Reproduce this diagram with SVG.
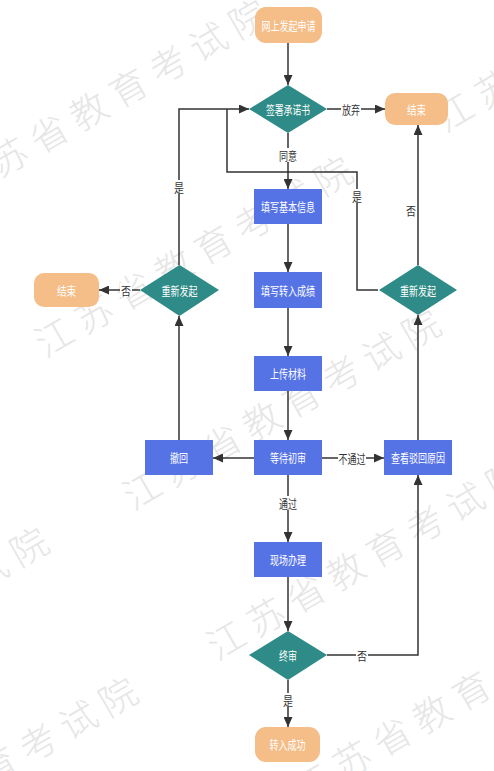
<svg xmlns="http://www.w3.org/2000/svg" width="494" height="771" viewBox="0 0 494 771">
<style>
.wm{font-family:"Noto Sans CJK SC","Noto Sans",sans-serif;font-size:37px;letter-spacing:9px;fill:#e6e6e6;font-weight:200}
.term{fill:#F5BD88}
.dec{fill:#2E8B87}
.proc{fill:#5673E6}
.nt{font-family:"Noto Sans CJK SC","Noto Sans",sans-serif;font-size:12px;fill:#ffffff;text-anchor:middle;dominant-baseline:central}
.ln{fill:none;stroke:#333333;stroke-width:1.5}
.lb{font-family:"Noto Sans CJK SC","Noto Sans",sans-serif;font-size:12px;fill:#333333;text-anchor:middle;dominant-baseline:central}
.lbbg{fill:#ffffff}
</style>
<defs>
<marker id="arr" markerUnits="userSpaceOnUse" markerWidth="10" markerHeight="9" viewBox="0 0 10 9" refX="10" refY="4.5" orient="auto">
<path d="M0,0 L10,4.5 L0,9 z" fill="#333333"/>
</marker>
</defs>
<rect width="494" height="771" fill="#ffffff"/>
<g id="watermark">
<text class="wm" transform="translate(-40,201) rotate(-30)">江苏省教育考试院</text>
<text class="wm" transform="translate(445,133) rotate(-30)">江苏省教育考试院</text>
<text class="wm" transform="translate(45,358) rotate(-30)">江苏省教育考试院</text>
<text class="wm" transform="translate(133,511) rotate(-30)">江苏省教育考试院</text>
<text class="wm" transform="translate(217,661) rotate(-30)">江苏省教育考试院</text>
<text class="wm" transform="translate(-259,729) rotate(-30)">江苏省教育考试院</text>
<text class="wm" transform="translate(-170,879) rotate(-30)">江苏省教育考试院</text>
<text class="wm" transform="translate(303,804) rotate(-30)">江苏省教育考试院</text>
</g>
<g id="connectors">
<line class="ln" x1="288" y1="43" x2="288" y2="85" marker-end="url(#arr)"/>
<line class="ln" x1="327" y1="109" x2="385" y2="109" marker-end="url(#arr)"/>
<line class="ln" x1="288" y1="133" x2="288" y2="189" marker-end="url(#arr)"/>
<line class="ln" x1="288" y1="224" x2="288" y2="272" marker-end="url(#arr)"/>
<line class="ln" x1="288" y1="308" x2="288" y2="356" marker-end="url(#arr)"/>
<line class="ln" x1="288" y1="391" x2="288" y2="440" marker-end="url(#arr)"/>
<line class="ln" x1="254" y1="458" x2="213" y2="458" marker-end="url(#arr)"/>
<line class="ln" x1="322" y1="458" x2="384" y2="458" marker-end="url(#arr)"/>
<line class="ln" x1="288" y1="475" x2="288" y2="542" marker-end="url(#arr)"/>
<line class="ln" x1="288" y1="577" x2="288" y2="631" marker-end="url(#arr)"/>
<line class="ln" x1="288" y1="680" x2="288" y2="727" marker-end="url(#arr)"/>
<polyline class="ln" points="327,655 418,655 418,475" marker-end="url(#arr)"/>
<line class="ln" x1="418" y1="440" x2="418" y2="315" marker-end="url(#arr)"/>
<line class="ln" x1="418" y1="265" x2="418" y2="125" marker-end="url(#arr)"/>
<polyline class="ln" points="378,290 357,290 357,172 227,172 227,109"/>
<polyline class="ln" points="179,265 179,109 249,109" marker-end="url(#arr)"/>
<line class="ln" x1="140" y1="290" x2="99" y2="290" marker-end="url(#arr)"/>
<line class="ln" x1="179" y1="440" x2="179" y2="316" marker-end="url(#arr)"/>
<g id="labels">
<rect class="lbbg" x="341" y="102" width="20" height="14"/>
<text class="lb" x="351" y="109" textLength="18" lengthAdjust="spacingAndGlyphs">放弃</text>
<rect class="lbbg" x="278" y="148" width="20" height="14"/>
<text class="lb" x="288" y="155" textLength="18" lengthAdjust="spacingAndGlyphs">同意</text>
<rect class="lbbg" x="338" y="451" width="28" height="14"/>
<text class="lb" x="352" y="458" textLength="27" lengthAdjust="spacingAndGlyphs">不通过</text>
<rect class="lbbg" x="278" y="496" width="20" height="14"/>
<text class="lb" x="288" y="503" textLength="18" lengthAdjust="spacingAndGlyphs">通过</text>
<rect class="lbbg" x="282" y="693" width="12" height="14"/>
<text class="lb" x="288" y="700" textLength="10" lengthAdjust="spacingAndGlyphs">是</text>
<rect class="lbbg" x="356" y="648" width="12" height="14"/>
<text class="lb" x="362" y="655" textLength="10" lengthAdjust="spacingAndGlyphs">否</text>
<text class="lb" x="411" y="210" textLength="10" lengthAdjust="spacingAndGlyphs">否</text>
<rect class="lbbg" x="351" y="189" width="12" height="14"/>
<text class="lb" x="357" y="196" textLength="10" lengthAdjust="spacingAndGlyphs">是</text>
<rect class="lbbg" x="173" y="180" width="12" height="14"/>
<text class="lb" x="179" y="187" textLength="10" lengthAdjust="spacingAndGlyphs">是</text>
<rect class="lbbg" x="120" y="283" width="12" height="14"/>
<text class="lb" x="126" y="290" textLength="10" lengthAdjust="spacingAndGlyphs">否</text>
</g>
</g>
<g id="n_start">
<rect class="term" x="255" y="7" width="67" height="36" rx="11"/>
<text class="nt" x="288.5" y="25" textLength="54" lengthAdjust="spacingAndGlyphs">网上发起申请</text>
</g>
<g id="n_sign">
<polygon class="dec" points="288,85 327,109 288,133 249,109"/>
<text class="nt" x="288" y="109" textLength="44" lengthAdjust="spacingAndGlyphs">签署承诺书</text>
</g>
<g id="n_end1">
<rect class="term" x="385" y="93" width="63" height="32" rx="10"/>
<text class="nt" x="416.5" y="109" textLength="19" lengthAdjust="spacingAndGlyphs">结束</text>
</g>
<g id="n_basic">
<rect class="proc" x="254" y="189" width="68" height="35"/>
<text class="nt" x="288" y="206.5" textLength="54" lengthAdjust="spacingAndGlyphs">填写基本信息</text>
</g>
<g id="n_score">
<rect class="proc" x="254" y="272" width="68" height="36"/>
<text class="nt" x="288" y="290" textLength="54" lengthAdjust="spacingAndGlyphs">填写转入成绩</text>
</g>
<g id="n_upload">
<rect class="proc" x="254" y="356" width="68" height="35"/>
<text class="nt" x="288" y="373.5" textLength="36" lengthAdjust="spacingAndGlyphs">上传材料</text>
</g>
<g id="n_wait">
<rect class="proc" x="254" y="440" width="68" height="35"/>
<text class="nt" x="288" y="457.5" textLength="36" lengthAdjust="spacingAndGlyphs">等待初审</text>
</g>
<g id="n_withdraw">
<rect class="proc" x="145" y="440" width="68" height="35"/>
<text class="nt" x="179" y="457.5" textLength="18" lengthAdjust="spacingAndGlyphs">撤回</text>
</g>
<g id="n_reason">
<rect class="proc" x="384" y="440" width="68" height="35"/>
<text class="nt" x="418" y="457.5" textLength="54" lengthAdjust="spacingAndGlyphs">查看驳回原因</text>
</g>
<g id="n_restart_l">
<polygon class="dec" points="179.5,265 219,290 179.5,316 140,290"/>
<text class="nt" x="179.5" y="290" textLength="36" lengthAdjust="spacingAndGlyphs">重新发起</text>
</g>
<g id="n_end2">
<rect class="term" x="34" y="273" width="65" height="34" rx="10"/>
<text class="nt" x="66.5" y="290" textLength="19" lengthAdjust="spacingAndGlyphs">结束</text>
</g>
<g id="n_restart_r">
<polygon class="dec" points="418,265 457,290 418,315 379,290"/>
<text class="nt" x="418" y="290" textLength="36" lengthAdjust="spacingAndGlyphs">重新发起</text>
</g>
<g id="n_onsite">
<rect class="proc" x="254" y="542" width="68" height="35"/>
<text class="nt" x="288" y="559.5" textLength="36" lengthAdjust="spacingAndGlyphs">现场办理</text>
</g>
<g id="n_final">
<polygon class="dec" points="288,631 327,655 288,680 249,655"/>
<text class="nt" x="288" y="655.5" textLength="18" lengthAdjust="spacingAndGlyphs">终审</text>
</g>
<g id="n_success">
<rect class="term" x="255" y="727" width="65" height="35" rx="11"/>
<text class="nt" x="287.5" y="744.5" textLength="36" lengthAdjust="spacingAndGlyphs">转入成功</text>
</g>
</svg>
